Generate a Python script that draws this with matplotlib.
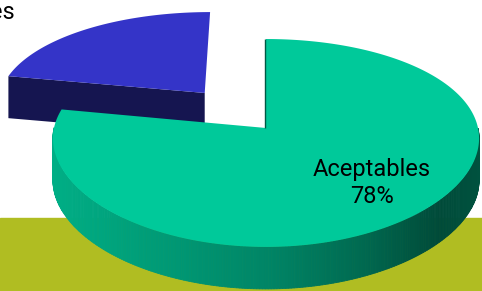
import numpy as np
import matplotlib.pyplot as plt
from matplotlib.patches import Polygon
from matplotlib.colors import to_rgb

labels = ['No aceptables', 'Aceptables']
values = [22, 78]
explode = [0.47, 0.0]

top_colors = ['#3434c8', '#00c99a']
face_shade = 0.4
# side shading (multiplier of the top colour) along the image x
shade_x = [50, 160, 270, 360, 440, 482]
shade_k = [0.87, 0.77, 0.66, 0.53, 0.37, 0.41]

# label anchors (pixels)
label_xy = [(15, 1), (372, 183)]

# fake perspective for the tilted pie (pixel units)
X0, Y0 = 266, 128
SX, SA, T = 212, 101.8, 42
KX, KY = 0.10, 0.144


def proj(X, Z):
    X = np.asarray(X, float)
    Z = np.asarray(Z, float)
    x = X0 + SX * X / (1 + KX * Z)
    y = Y0 - SA * Z / (1 + KY * Z)
    return x, y


def shade(color, k):
    r, g, b = to_rgb(color)
    return (r * k, g * k, b * k)


fig = plt.figure(figsize=(4.82, 2.91), dpi=100)
ax = fig.add_axes([0, 0, 1, 1])
ax.set_xlim(0, 482)
ax.set_ylim(291, 0)
ax.axis('off')
ax.axhspan(218, 291, color='#b0bd22', zorder=0)

frac = np.array(values) / sum(values)
starts = 90 + 360 * np.concatenate([[0], np.cumsum(frac)[:-1]])
ends = starts + 360 * frac

z = 1
for i in range(len(values)):
    a0, a1 = np.radians(starts[i]), np.radians(ends[i])
    mid = (a0 + a1) / 2
    ox, oz = explode[i] * np.cos(mid), explode[i] * np.sin(mid)
    t = np.linspace(a0, a1, 400)
    tx, ty = proj(ox + np.cos(t), oz + np.sin(t))
    cx, cy = proj(ox, oz)

    # outer wall, near half only
    for j in range(len(t) - 1):
        if np.sin((t[j] + t[j + 1]) / 2) >= 0:
            continue
        xs = [tx[j], tx[j + 1], tx[j + 1], tx[j]]
        ys = [ty[j], ty[j + 1], ty[j + 1] + T, ty[j] + T]
        c = shade(top_colors[i], np.interp(np.mean(xs), shade_x, shade_k))
        ax.add_patch(Polygon(np.column_stack([xs, ys]), closed=True,
                             fc=c, ec=c, lw=0.6, zorder=z))

    # cut faces that look towards the viewer
    for ang, sgn in [(a0, -1), (a1, 1)]:
        if np.sin(ang + sgn * np.pi / 2) < -0.01:
            px, py = proj(ox + np.cos(ang), oz + np.sin(ang))
            xs = [cx, px, px, cx]
            ys = [cy, py, py + T, cy + T]
            ax.add_patch(Polygon(np.column_stack([xs, ys]), closed=True,
                                 fc=shade(top_colors[i], face_shade),
                                 ec='none', zorder=z))

    # top face
    poly = np.column_stack([np.r_[cx, tx], np.r_[cy, ty]])
    ax.add_patch(Polygon(poly, closed=True, fc=top_colors[i], ec='none', zorder=z + 1))
    # thin shadow along the vertical cut edge
    if i == 1:
        ex, ey = proj(ox + np.cos(a1), oz + np.sin(a1))
        ax.plot([cx - 0.8, ex - 0.8], [cy, ey], color=shade(top_colors[i], 0.45),
                lw=1.0, zorder=z + 1, solid_capstyle='butt')
    z += 2

    text = f'{labels[i]}\n{values[i]}%'
    if i == 1:
        ax.text(*label_xy[i], text, ha='center', va='center', fontsize=17,
                family='Roboto', color='black', zorder=10)
    else:
        ax.text(*label_xy[i], text, ha='right', va='top', multialignment='center',
                fontsize=17, family='Roboto', color='black', zorder=10)

fig.savefig('out.png', dpi=100)
